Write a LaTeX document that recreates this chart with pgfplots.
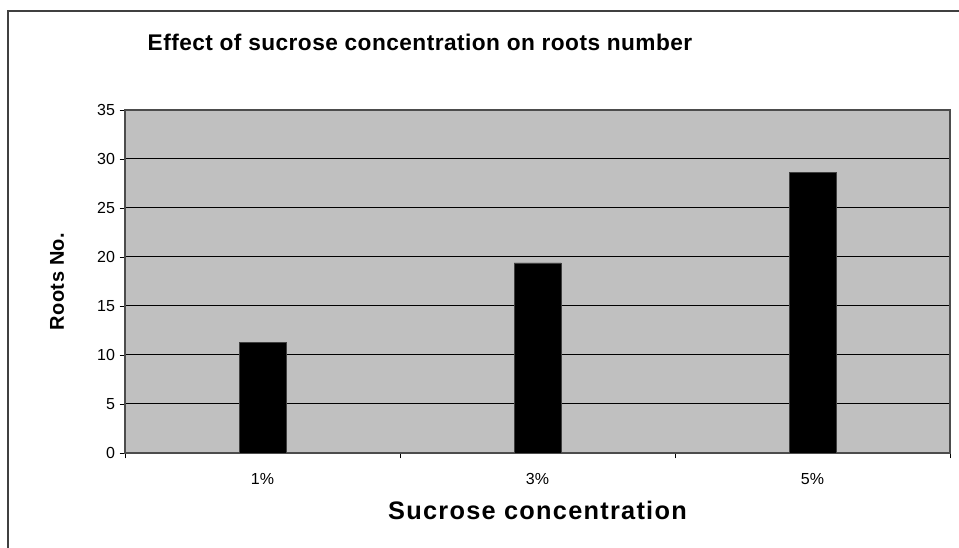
\documentclass[border=0pt]{standalone}
\usepackage{pgfplots}
\pgfplotsset{compat=1.18}
\usepackage{fontspec}
\setmainfont{Liberation Sans}
\definecolor{plotgray}{RGB}{192,192,192}
\definecolor{framegray}{RGB}{64,64,64}
\begin{document}
\begin{tikzpicture}
% page is 959x548 px, 1px = 0.75pt
\path[use as bounding box] (0,0) rectangle (719.25pt,411pt);
\draw[framegray, line width=1.3pt] (6pt,0) -- (6pt,402.75pt) -- (719.25pt,402.75pt);
\node[font=\bfseries\fontsize{17}{20}\selectfont\addfontfeature{LetterSpace=2}] at (315pt,379.5pt) {Effect of sucrose concentration on roots number};
\begin{axis}[
    at={(93.75pt,71.25pt)}, anchor=south west,
    scale only axis,
    width=618.75pt, height=257.25pt,
    ybar, bar width=35.25pt,
    xmin=0.5, xmax=3.5,
    ymin=0, ymax=35,
    ytick={0,5,...,35},
    xtick={1,2,3},
    xticklabels={1\%,3\%,5\%},
    minor xtick={0.5,1.5,2.5,3.5},
    major x tick style={draw=none},
    minor x tick style={black, line width=0.6pt},
    y tick style={black, line width=0.6pt},
    tick align=outside,
    tick pos=left,
    major tick length=4pt,
    minor tick length=4pt,
    ymajorgrids,
    major grid style={black, line width=0.75pt},
    axis background/.style={fill=plotgray},
    axis line style={draw=gray!60!black, line width=1pt},
    tick label style={font=\fontsize{12}{14}\selectfont},
    xticklabel style={yshift=-8pt},
    /pgf/number format/assume math mode=true,
    xlabel={Sucrose concentration},
    xlabel style={font=\bfseries\fontsize{19}{22}\selectfont\addfontfeature{LetterSpace=5}, at={(axis description cs:0.5,0)}, anchor=center, yshift=-42.75pt},
    ylabel={Roots No.},
    ylabel style={font=\bfseries\fontsize{15}{18}\selectfont\addfontfeature{LetterSpace=2}, at={(axis description cs:-0.0824,0.5)}, anchor=center},
]
\addplot[fill=black, draw=gray!50!black] coordinates {(1,11.3) (2,19.4) (3,28.6)};
\end{axis}
\end{tikzpicture}
\end{document}
